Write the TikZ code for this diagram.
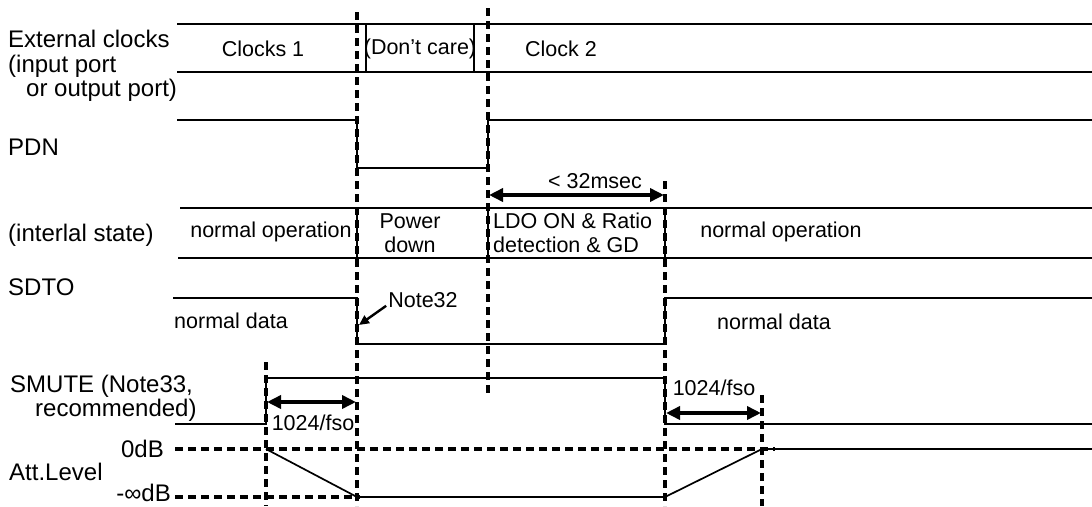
\documentclass[tikz,border=0pt]{standalone}
\usepackage{fontspec}
\setmainfont{Liberation Sans}
\usetikzlibrary{arrows.meta}
\begin{document}
\begin{tikzpicture}[x=1pt,y=-1pt,
  sig/.style={line width=1.7pt},
  vdash/.style={line width=3.2pt, dash pattern=on 8pt off 5pt},
  dimarrow/.style={line width=3.6pt, {Triangle[length=14pt,width=13pt]}-{Triangle[length=14pt,width=13pt]}},
  notearrow/.style={line width=2.4pt, -{Triangle[length=10pt,width=9pt]}},
  lbl/.style={font=\fontsize{24}{27}\selectfont, inner sep=0pt, anchor=west},
  lble/.style={font=\fontsize{24}{27}\selectfont, inner sep=0pt, anchor=east},
  txt/.style={font=\fontsize{21.5}{24}\selectfont, inner sep=0pt},
  txtw/.style={font=\fontsize{21.5}{24}\selectfont, inner sep=0pt, anchor=west},
]
\useasboundingbox (0,0) rectangle (1092,506);
% dashed time markers
\draw[vdash] (357,12) -- (357,506);
\draw[vdash] (488,8) -- (488,395);
\draw[vdash] (665,181) -- (665,506);
\draw[vdash] (266,362) -- (266,506);
\draw[vdash] (762,395) -- (762,506);
\draw[vdash] (175,449) -- (775,449);
\draw[vdash] (175,497) -- (360,497);
% external clocks bus
\draw[sig] (177,24) -- (1092,24);
\draw[sig] (177,72) -- (1092,72);
\draw[sig] (366,24) -- (366,72);
\draw[sig] (474,24) -- (474,72);
% PDN
\draw[sig] (177,120) -- (357,120) -- (357,168) -- (488,168) -- (488,120) -- (1092,120);
% internal state bus
\draw[sig] (180,208) -- (1092,208);
\draw[sig] (178,258) -- (1092,258);
\draw[sig] (357,208) -- (357,258);
\draw[sig] (488,208) -- (488,258);
\draw[sig] (665,208) -- (665,258);
% SDTO
\draw[sig] (173,298) -- (357,298) -- (357,344) -- (665,344) -- (665,298) -- (1092,298);
% SMUTE
\draw[sig] (175,424) -- (266,424) -- (266,378) -- (665,378) -- (665,424) -- (1092,424);
% Att level
\draw[sig] (266,449) -- (357,497) -- (665,497) -- (762,449) -- (1092,449);
% dimension arrows
\draw[dimarrow] (489,195) -- (664,195);
\draw[dimarrow] (267,402) -- (356,402);
\draw[dimarrow] (666,413) -- (761,413);
% left labels
\node[lbl] (lext) at (8,39) {External clocks};
\node[lbl] (lin) at (8,66) {(input port};
\node[lbl] (lout) at (26,90) {or output port)};
\node[lbl] (lpdn) at (8,147) {PDN};
\node[lbl] (lint) at (8,235) {(interlal state)};
\node[lbl] (lsdto) at (8,287) {SDTO};
\node[lbl] (lsm1) at (10,386) {SMUTE (Note33,};
\node[lbl] (lsm2) at (35,410) {recommended)};
\node[lbl] (latt) at (9,472) {Att.Level};
\node[lble] (l0db) at (164,449) {0dB};
\node[lble] (linf) at (171,493) {-∞dB};
% inner texts
\node[txt] (c1) at (263,49) {Clocks 1};
\node[txt] (dc) at (420,49) {(Don’t care)};
\node[txt] (c2) at (561,49) {Clock 2};
\node[txt] (ms) at (595,181) {< 32msec};
\node[txt] (no1) at (271,232) {normal operation};
\node[txt] (pw1) at (410,221) {Power};
\node[txt] (pw2) at (410,245) {down};
\node[txtw] (ldo1) at (493,221) {LDO ON \& Ratio};
\node[txtw] (ldo2) at (493,245) {detection \& GD};
\node[txt] (no2) at (781,232) {normal operation};
\node[txt] (nd1) at (231,321) {normal data};
\node[txt] (nd2) at (774,322) {normal data};
\node[txt] (n32) at (423,300) {Note32};
\node[txt] (f1) at (313,423) {1024/fso};
\node[txt] (f2) at (714,388) {1024/fso};
\coordinate (n32tip) at (359,325);
\draw[notearrow] (n32.south west) ++(-2,-2) coordinate (n32tail) -- (n32tip);
\end{tikzpicture}
\end{document}
